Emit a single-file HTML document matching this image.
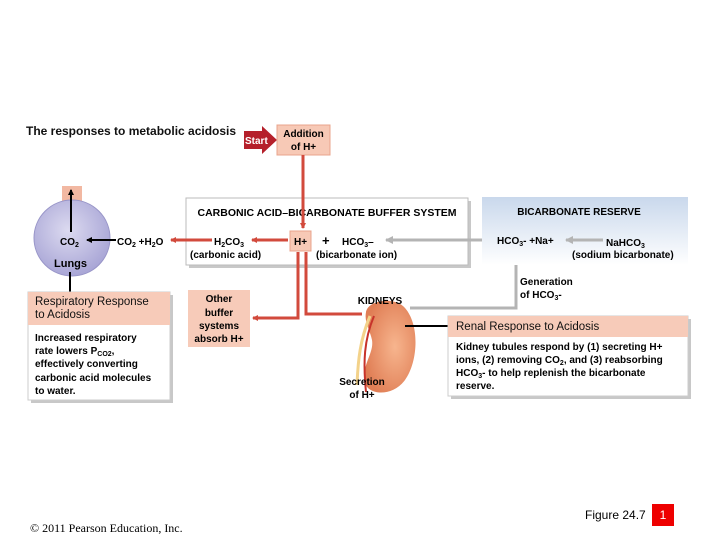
<!DOCTYPE html>
<html><head><meta charset="utf-8"><style>
body{margin:0;background:#fff;}
svg{display:block;font-family:"Liberation Sans",Arial,sans-serif;}
.b{font-weight:bold;}
</style></head><body>
<svg width="720" height="540" viewBox="0 0 720 540" xmlns="http://www.w3.org/2000/svg">
<defs>
<linearGradient id="g1" x1="0" y1="0" x2="0" y2="1">
<stop offset="0" stop-color="#c9d8ec"/><stop offset="1" stop-color="#ffffff"/></linearGradient>
<radialGradient id="lg" cx="0.45" cy="0.4" r="0.6"><stop offset="0" stop-color="#dcdaf0"/><stop offset="1" stop-color="#a9a6d6"/></radialGradient>
<radialGradient id="kg" cx="0.6" cy="0.5" r="0.6"><stop offset="0" stop-color="#f7b58e"/><stop offset="1" stop-color="#e07e55"/></radialGradient>
<marker id="ar" markerWidth="6" markerHeight="6" refX="5" refY="3" orient="auto" markerUnits="userSpaceOnUse"><path d="M0,0 L6,3 L0,6z" fill="#d24a3c"/></marker>
<marker id="ag" markerWidth="8" markerHeight="8" refX="7" refY="4" orient="auto" markerUnits="userSpaceOnUse"><path d="M0,0 L8,4 L0,8z" fill="#b4b4b4"/></marker>
<marker id="ak" markerWidth="6" markerHeight="6" refX="5" refY="3" orient="auto" markerUnits="userSpaceOnUse"><path d="M0,0 L6,3 L0,6z" fill="#000"/></marker>
</defs>

<text x="26" y="135" font-size="12" class="b" fill="#111">The responses to metabolic acidosis</text>
<path d="M244,131 L262,131 L262,126 L277,140 L262,154 L262,149 L244,149z" fill="#b5202b"/>
<text x="245" y="144" font-size="10" class="b" fill="#fff">Start</text>
<rect x="277" y="125" width="53" height="30" fill="#f7c9b6" stroke="#e8a48c"/>
<text x="303.5" y="137" font-size="10" class="b" text-anchor="middle">Addition</text>
<text x="303.5" y="150" font-size="10" class="b" text-anchor="middle">of H+</text>

<!-- buffer box -->
<rect x="189" y="201" width="282" height="67" fill="#c8c8c8"/>
<rect x="186" y="198" width="282" height="67" fill="#fff" stroke="#bbb"/>
<text x="327" y="216" font-size="10.5" class="b" text-anchor="middle">CARBONIC ACID–BICARBONATE BUFFER SYSTEM</text>
<line x1="303" y1="155" x2="303" y2="228" stroke="#d24a3c" stroke-width="3" marker-end="url(#ar)"/>
<rect x="290" y="231" width="21" height="20" fill="#f7c9b6" stroke="#e8a48c"/>
<text x="300.5" y="245" font-size="10" class="b" text-anchor="middle">H+</text>
<text x="322" y="245" font-size="13" class="b">+</text>
<text x="342" y="245" font-size="10" class="b">HCO<tspan font-size="7" dy="2">3</tspan><tspan dy="-2">–</tspan></text>
<text x="316" y="258" font-size="10" class="b">(bicarbonate ion)</text>
<text x="214" y="245" font-size="10" class="b">H<tspan font-size="7" dy="2">2</tspan><tspan dy="-2">CO</tspan><tspan font-size="7" dy="2">3</tspan></text>
<text x="190" y="258" font-size="10" class="b">(carbonic acid)</text>
<line x1="288" y1="240" x2="252" y2="240" stroke="#d24a3c" stroke-width="3" marker-end="url(#ar)"/>
<line x1="212" y1="240" x2="171" y2="240" stroke="#d24a3c" stroke-width="3" marker-end="url(#ar)"/>
<text x="117" y="245" font-size="10" class="b">CO<tspan font-size="7" dy="2">2</tspan><tspan dy="-2"> +H</tspan><tspan font-size="7" dy="2">2</tspan><tspan dy="-2">O</tspan></text>

<!-- lungs -->
<rect x="62" y="186" width="20" height="16" fill="#f2b8a2"/>
<circle cx="72" cy="238" r="38" fill="url(#lg)" stroke="#9895c8"/>
<text x="60" y="245" font-size="10" class="b">CO<tspan font-size="7" dy="2">2</tspan></text>
<line x1="116" y1="240" x2="87" y2="240" stroke="#000" stroke-width="2" marker-end="url(#ak)"/>
<line x1="71" y1="232" x2="71" y2="190" stroke="#000" stroke-width="2" marker-end="url(#ak)"/>
<text x="54" y="267" font-size="11" class="b">Lungs</text>
<line x1="70" y1="272" x2="70" y2="293" stroke="#000" stroke-width="2"/>

<!-- respiratory box -->
<rect x="31" y="295" width="142" height="108" fill="#c8c8c8"/>
<rect x="28" y="292" width="142" height="108" fill="#fff" stroke="#ccc"/>
<rect x="28" y="292" width="142" height="33" fill="#f7cbb9"/>
<text x="35" y="305" font-size="11.5" fill="#111">Respiratory Response</text>
<text x="35" y="318" font-size="11.5" fill="#111">to Acidosis</text>
<g font-size="10" class="b">
<text x="35" y="341">Increased respiratory</text>
<text x="35" y="354">rate lowers P<tspan font-size="7" dy="2">CO2</tspan><tspan dy="-2">,</tspan></text>
<text x="35" y="367">effectively converting</text>
<text x="35" y="381">carbonic acid molecules</text>
<text x="35" y="394">to water.</text>
</g>

<!-- red lines down -->
<polyline points="298,252 298,318 253,318" fill="none" stroke="#d24a3c" stroke-width="3" marker-end="url(#ar)"/>
<polyline points="306,252 306,314 362,314" fill="none" stroke="#d24a3c" stroke-width="3"/>
<rect x="188" y="290" width="62" height="57" fill="#f7cbb9"/>
<g font-size="10" class="b" text-anchor="middle">
<text x="219" y="302">Other</text>
<text x="219" y="316">buffer</text>
<text x="219" y="329">systems</text>
<text x="219" y="342">absorb H+</text>
</g>

<!-- kidney -->
<path d="M366,312 C368,300 395,296 405,308 C420,325 418,362 405,380 C392,398 364,396 364,378 C364,362 374,352 372,340 C370,330 364,322 366,312z" fill="url(#kg)"/>
<path d="M370,316 C360,340 358,360 357,385" stroke="#f3d28a" stroke-width="3" fill="none"/>
<path d="M374,316 C364,340 363,362 366,392" stroke="#c7332b" stroke-width="2" fill="none"/>
<text x="380" y="304" font-size="10" class="b" text-anchor="middle">KIDNEYS</text>
<text x="362" y="385" font-size="10" class="b" text-anchor="middle">Secretion</text>
<text x="362" y="398" font-size="10" class="b" text-anchor="middle">of H+</text>

<!-- gray connectors -->
<polyline points="410,308 516,308 516,252" fill="none" stroke="#b4b4b4" stroke-width="3" marker-end="url(#ag)"/>
<line x1="496" y1="240" x2="386" y2="240" stroke="#b4b4b4" stroke-width="3" marker-end="url(#ag)"/>
<line x1="405" y1="326" x2="448" y2="326" stroke="#000" stroke-width="2"/>

<!-- bicarbonate reserve -->
<rect x="482" y="197" width="206" height="68" fill="url(#g1)"/>
<text x="579" y="215" font-size="10" class="b" text-anchor="middle">BICARBONATE RESERVE</text>
<text x="497" y="244" font-size="10" class="b">HCO<tspan font-size="7" dy="2">3</tspan><tspan dy="-2">- +Na+</tspan></text>
<line x1="603" y1="240" x2="566" y2="240" stroke="#b4b4b4" stroke-width="3" marker-end="url(#ag)"/>
<text x="606" y="246" font-size="10" class="b">NaHCO<tspan font-size="7" dy="2">3</tspan></text>
<text x="572" y="258" font-size="10" class="b">(sodium bicarbonate)</text>
<text x="520" y="285" font-size="10" class="b">Generation</text>
<text x="520" y="298" font-size="10" class="b">of HCO<tspan font-size="7" dy="2">3</tspan><tspan dy="-2">-</tspan></text>

<!-- renal box -->
<rect x="451" y="319" width="240" height="80" fill="#c8c8c8"/>
<rect x="448" y="316" width="240" height="80" fill="#fff" stroke="#ccc"/>
<rect x="448" y="316" width="240" height="21" fill="#f7cbb9"/>
<text x="456" y="330" font-size="11.5" fill="#111">Renal Response to Acidosis</text>
<g font-size="10" class="b">
<text x="456" y="350">Kidney tubules respond by (1) secreting H+</text>
<text x="456" y="363">ions, (2) removing CO<tspan font-size="7" dy="2">2</tspan><tspan dy="-2">, and (3) reabsorbing</tspan></text>
<text x="456" y="376">HCO<tspan font-size="7" dy="2">3</tspan><tspan dy="-2">- to help replenish the bicarbonate</tspan></text>
<text x="456" y="389">reserve.</text>
</g>

<text x="30" y="532" font-size="12" font-family="Liberation Serif,serif">© 2011 Pearson Education, Inc.</text>
<text x="585" y="519" font-size="12" fill="#000">Figure 24.7</text>
<rect x="652" y="504" width="22" height="22" fill="#ee0000"/>
<text x="663" y="519" font-size="12" fill="#fff" text-anchor="middle">1</text>
</svg>
</body></html>
